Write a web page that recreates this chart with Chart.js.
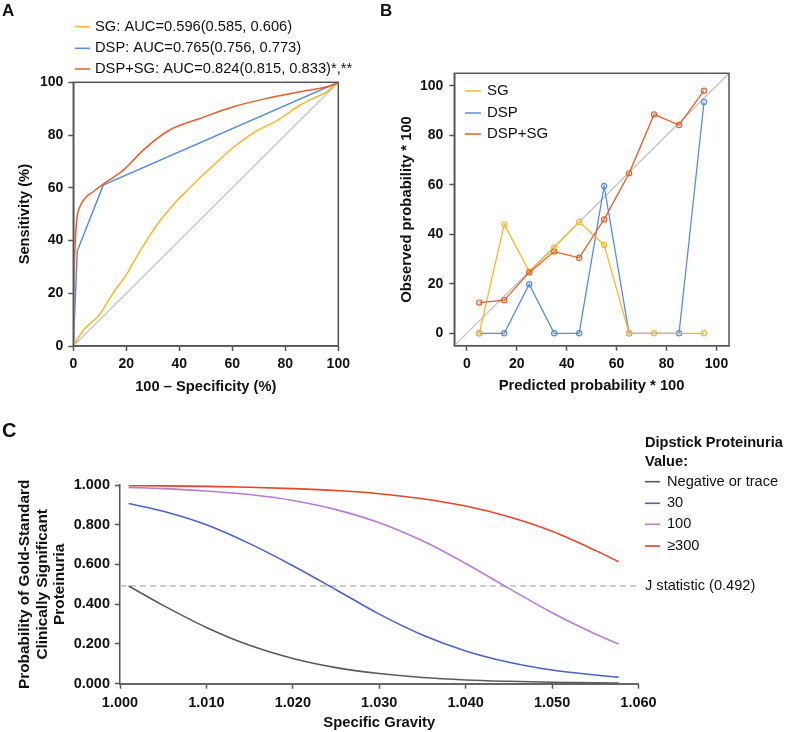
<!DOCTYPE html>
<html><head><meta charset="utf-8">
<script src="https://cdn.jsdelivr.net/npm/chart.js@4.4.0/dist/chart.umd.min.js"></script>
<style>
html,body{margin:0;padding:0;background:#fff;}
#wrap{position:relative;width:785px;height:732px;overflow:hidden;font-family:"Liberation Sans",Arial,Helvetica,sans-serif;}
canvas{position:absolute;}
.lbl{position:absolute;font-weight:bold;line-height:1;color:#111;}
</style></head><body>
<div id="wrap">
<canvas id="cA" width="392" height="400" style="left:0;top:0"></canvas>
<canvas id="cB" width="393" height="400" style="left:392px;top:0"></canvas>
<canvas id="cC" width="785" height="332" style="left:0;top:400px"></canvas>
<div class="lbl" style="left:2px;top:2px;font-size:17px">A</div>
<div class="lbl" style="left:380px;top:2px;font-size:17px">B</div>
<div class="lbl" style="left:2px;top:420px;font-size:20px">C</div>
</div>
<script>
// ---------- Panel A: ROC curves (x = 100 - specificity, y = sensitivity) ----------
const rocSG_x    = [0, 3.8, 10, 15, 20, 24, 28, 32.7, 36, 39, 44, 48, 54, 60, 66.7, 70, 73, 76, 80, 85.5, 90.6, 95.6, 100];
const rocSG_y    = [0, 6, 12, 20, 27, 34, 40.5, 47.5, 51.5, 55, 60, 64, 69.5, 75, 80, 82, 83.5, 85, 87.5, 91.3, 93.9, 96.4, 100];
const rocDSP_x   = [0, 1.5, 11.3, 100];
const rocDSP_y   = [0, 36, 61, 100];
const rocBoth_x  = [0, 0.15, 0.6, 1.3, 2.5, 4.4, 7.5, 12.6, 18.9, 26.4, 36.5, 47.8, 60.4, 73, 85.5, 98, 100];
const rocBoth_y  = [0, 18, 36.4, 47.8, 52.8, 56, 58.5, 62.3, 66.7, 74.3, 82, 86.3, 90.7, 93.9, 96.4, 99, 100];
const rocLabels  = ['SG: AUC=0.596(0.585, 0.606)', 'DSP: AUC=0.765(0.756, 0.773)', 'DSP+SG: AUC=0.824(0.815, 0.833)*,**'];
const rocTicks   = [0, 20, 40, 60, 80, 100];

// ---------- Panel B: calibration ----------
const calPred    = [5, 15, 25, 35, 45, 55, 65, 75, 85, 95];
const calSG      = [0, 44, 25, 34.6, 45, 35.7, 0, 0, null, 0];
const calDSP     = [0, 0, 19.8, 0, 0, 59.5, 0, null, 0, 93.4];
const calBoth    = [12.4, 13.4, 24.6, 33, 30.5, 46, 64.6, 88.4, 84.1, 98];
const calLabels  = ['SG', 'DSP', 'DSP+SG'];
const calTicks   = [0, 20, 40, 60, 80, 100];

// ---------- Panel C: predicted probability vs specific gravity ----------
const sgValues   = [1.001, 1.005, 1.010, 1.015, 1.020, 1.025, 1.030, 1.035, 1.040, 1.045, 1.050, 1.055, 1.0577];
const probNeg    = [0.492, 0.394, 0.283, 0.193, 0.127, 0.081, 0.051, 0.031, 0.019, 0.012, 0.007, 0.004, 0.003];
const prob30     = [0.907, 0.868, 0.800, 0.705, 0.594, 0.473, 0.350, 0.245, 0.165, 0.108, 0.069, 0.044, 0.033];
const prob100    = [0.988, 0.982, 0.970, 0.952, 0.922, 0.876, 0.810, 0.719, 0.605, 0.480, 0.357, 0.250, 0.200];
const prob300    = [0.997, 0.9956, 0.993, 0.989, 0.982, 0.972, 0.956, 0.931, 0.894, 0.840, 0.767, 0.671, 0.614];
const dipLabels  = ['Negative or trace', '30', '100', '\u2265300'];
const jStatistic = 0.492;
const sgTicks    = [1.000, 1.010, 1.020, 1.030, 1.040, 1.050, 1.060];
const probTicks  = [0, 0.2, 0.4, 0.6, 0.8, 1.0];

const FONT = '"Liberation Sans", Arial, Helvetica, sans-serif';
Chart.defaults.font.family = FONT;
Chart.defaults.color = '#111';
Chart.defaults.animation = false;

const pts = (xs, ys) => xs.map((x, i) => ({x: x, y: ys[i]}));

const framePlugin = {
  id: 'frame',
  afterDatasetsDraw(chart, args, o) {
    if (!o || !o.display) return;
    const {ctx, chartArea: a} = chart;
    ctx.save(); ctx.strokeStyle = o.color; ctx.lineWidth = o.width;
    ctx.strokeRect(a.left, a.top, a.right - a.left, a.bottom - a.top);
    ctx.restore();
  }
};

const lineLegend = {
  id: 'lineLegend',
  afterDraw(chart, args, o) {
    if (!o || !o.display) return;
    const ctx = chart.ctx;
    ctx.save();
    ctx.textBaseline = 'middle'; ctx.textAlign = 'left';
    if (o.title) {
      ctx.font = o.titleFont; ctx.fillStyle = '#111';
      o.title.forEach((t, i) => ctx.fillText(t, o.x, o.titleY[i]));
    }
    ctx.font = o.font;
    let k = 0;
    chart.data.datasets.forEach(ds => {
      if (ds.inLegend === false) return;
      const y = o.ys[k++];
      ctx.strokeStyle = ds.borderColor; ctx.lineWidth = o.lineWidth || 1.5;
      ctx.beginPath(); ctx.moveTo(o.x, y); ctx.lineTo(o.x + o.lineLen, y); ctx.stroke();
      ctx.fillStyle = '#111';
      ctx.fillText(ds.label, o.x + o.textGap, y);
    });
    chart.data.datasets.forEach(ds => {
      if (!ds.refLabel) return;
      const y = chart.scales.y.getPixelForValue(ds.data[0].y);
      ctx.fillStyle = '#111';
      ctx.fillText(ds.label, o.refX, y);
    });
    ctx.restore();
  }
};

const AX = '#555';
function axis(opts) {
  return Object.assign({
    type: 'linear',
    border: {display: true, color: AX, width: 1.5},
    grid: {drawOnChartArea: false, drawTicks: true, tickLength: 5, tickColor: AX, tickWidth: 1.5},
    ticks: {font: {size: 14, weight: 'bold'}, color: '#111', padding: 5},
  }, opts);
}

// ---------------- Panel A ----------------
const cYellow = '#F3B731', cBlue = '#5A8DD6', cOrange = '#E1602F', cDiag = '#BDBDBD';
new Chart(document.getElementById('cA'), {
  type: 'line',
  data: {datasets: [
    {label: rocLabels[0], data: pts(rocSG_x, rocSG_y), borderColor: cYellow, borderWidth: 1.5, pointRadius: 0, cubicInterpolationMode: 'monotone', order: 1},
    {label: rocLabels[1], data: pts(rocDSP_x, rocDSP_y), borderColor: cBlue, borderWidth: 1.5, pointRadius: 0, tension: 0, order: 2},
    {label: rocLabels[2], data: pts(rocBoth_x, rocBoth_y), borderColor: cOrange, borderWidth: 1.5, pointRadius: 0, cubicInterpolationMode: 'monotone', order: 0},
    {label: 'ref', inLegend: false, data: pts([0, 100], [0, 100]), borderColor: cDiag, borderWidth: 1.2, pointRadius: 0, order: 3}
  ]},
  options: {
    responsive: false, maintainAspectRatio: false,
    layout: {padding: {left: 0, top: 82.3, right: 53.7, bottom: 0}},
    plugins: {legend: {display: false}, tooltip: {enabled: false},
      frame: {display: true, color: AX, width: 1.5},
      lineLegend: {display: true, x: 75, lineLen: 15, textGap: 20, ys: [26.7, 48.3, 69], font: '14.7px ' + FONT, lineWidth: 1.5}},
    scales: {
      x: axis({min: 0, max: 100, afterBuildTicks: a => { a.ticks = rocTicks.map(v => ({value: v})); },
        afterFit: s => { s.height = 54; },
        title: {display: true, text: '100 \u2013 Specificity (%)', font: {size: 14.7, weight: 'bold'}, color: '#111', padding: {top: 0, bottom: 4.2}}}),
      y: axis({min: 0, max: 100, afterBuildTicks: a => { a.ticks = rocTicks.map(v => ({value: v})); },
        afterFit: s => { s.width = 73.3; },
        title: {display: true, text: 'Sensitivity (%)', font: {size: 14.7, weight: 'bold'}, color: '#111', padding: {top: 16.2, bottom: 0}}})
    }
  },
  plugins: [framePlugin, lineLegend]
});

// ---------------- Panel B ----------------
const calDs = (label, ys, color, order) => ({
  label: label, data: pts(calPred, ys), borderColor: color, backgroundColor: 'rgba(0,0,0,0)',
  borderWidth: 1.3, pointRadius: 2.6, pointBorderWidth: 1.2, pointBorderColor: color,
  pointBackgroundColor: 'rgba(0,0,0,0)', spanGaps: true, tension: 0, order: order
});
new Chart(document.getElementById('cB'), {
  type: 'line',
  data: {datasets: [
    calDs(calLabels[0], calSG, cYellow, 1),
    calDs(calLabels[1], calDSP, cBlue, 2),
    calDs(calLabels[2], calBoth, cOrange, 0),
    {label: 'ref', inLegend: false, data: pts([-5, 105], [-5, 105]), borderColor: cDiag, borderWidth: 1.2, pointRadius: 0, order: 3}
  ]},
  options: {
    responsive: false, maintainAspectRatio: false,
    layout: {padding: {left: 0, top: 73.3, right: 56, bottom: 0}},
    plugins: {legend: {display: false}, tooltip: {enabled: false},
      frame: {display: true, color: AX, width: 1.5},
      lineLegend: {display: true, x: 73, lineLen: 16, textGap: 22, ys: [91, 113, 134], font: '15px ' + FONT, lineWidth: 1.5}},
    scales: {
      x: axis({min: -5, max: 105, afterBuildTicks: a => { a.ticks = calTicks.map(v => ({value: v})); },
        afterFit: s => { s.height = 54.3; },
        title: {display: true, text: 'Predicted probability * 100', font: {size: 14.8, weight: 'bold'}, color: '#111', padding: {top: 0, bottom: 5.1}}}),
      y: axis({min: -5, max: 105, afterBuildTicks: a => { a.ticks = calTicks.map(v => ({value: v})); },
        afterFit: s => { s.width = 62.3; },
        ticks: {font: {size: 14, weight: 'bold'}, color: '#111', padding: 6},
        title: {display: true, text: 'Observed probability * 100', font: {size: 14.8, weight: 'bold'}, color: '#111', padding: {top: 6.1, bottom: 0}}})
    }
  },
  plugins: [framePlugin, lineLegend]
});

// ---------------- Panel C ----------------
const cGray = '#5B5B5B', cBlue2 = '#4A63C9', cPurple = '#B97CD3', cRed = '#E8432C';
const curve = (label, ys, color) => ({label: label, data: pts(sgValues, ys), borderColor: color, borderWidth: 1.6, pointRadius: 0, cubicInterpolationMode: 'monotone'});
new Chart(document.getElementById('cC'), {
  type: 'line',
  data: {datasets: [
    curve(dipLabels[0], probNeg, cGray),
    curve(dipLabels[1], prob30, cBlue2),
    curve(dipLabels[2], prob100, cPurple),
    curve(dipLabels[3], prob300, cRed),
    {label: 'J statistic (' + jStatistic.toFixed(3) + ')', inLegend: false, refLabel: true,
     data: pts([1.000, 1.060], [jStatistic, jStatistic]), borderColor: '#BBBBBB', borderWidth: 1.5, borderDash: [6, 4], pointRadius: 0}
  ]},
  options: {
    responsive: false, maintainAspectRatio: false,
    layout: {padding: {left: 0, top: 85, right: 146.5, bottom: 0}},
    plugins: {legend: {display: false}, tooltip: {enabled: false},
      lineLegend: {display: true, x: 645, lineLen: 15, textGap: 22, ys: [81.7, 103.3, 124.3, 146], font: '14.6px ' + FONT, lineWidth: 1.6,
        title: ['Dipstick Proteinuria', 'Value:'], titleY: [43, 62], titleFont: 'bold 14.6px ' + FONT, refX: 645}},
    scales: {
      x: axis({min: 1.000, max: 1.060, afterBuildTicks: a => { a.ticks = sgTicks.map(v => ({value: v})); },
        afterFit: s => { s.height = 48.3; },
        border: {display: true, color: '#666', width: 2},
        ticks: {font: {size: 14.5, weight: 'bold'}, color: '#111', padding: 5.6, callback: v => Number(v).toFixed(3)},
        title: {display: true, text: 'Specific Gravity', font: {size: 14.8, weight: 'bold'}, color: '#111', padding: {top: 0, bottom: 0.1}}}),
      y: axis({min: 0, max: 1, afterBuildTicks: a => { a.ticks = probTicks.map(v => ({value: v})); },
        afterFit: s => { s.width = 120; },
        ticks: {font: {size: 14.5, weight: 'bold'}, color: '#111', padding: 5, callback: v => Number(v).toFixed(3)},
        title: {display: true, text: ['Probability of Gold-Standard', 'Clinically Significant', 'Proteinuria'],
          font: {size: 15.4, weight: 'bold', lineHeight: 1.14}, color: '#111', padding: {top: 16.2, bottom: 0}}})
    }
  },
  plugins: [lineLegend]
});
</script>
</body></html>
